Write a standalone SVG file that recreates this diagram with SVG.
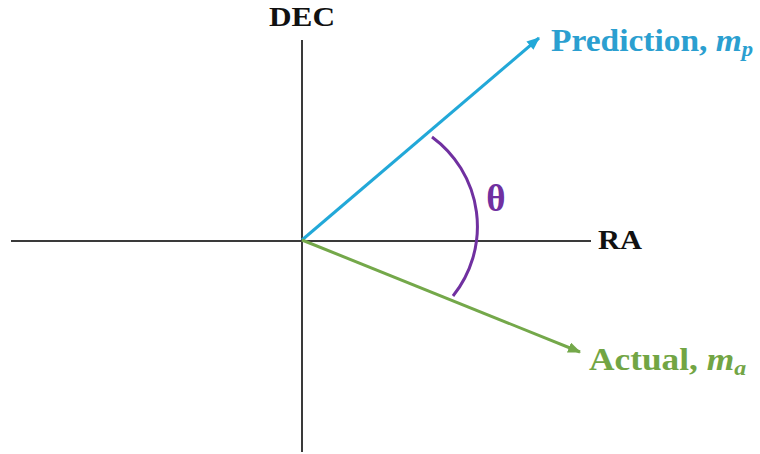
<svg xmlns="http://www.w3.org/2000/svg" width="760" height="454" viewBox="0 0 760 454">
<style>
.lbl{font-family:"Liberation Serif","Times New Roman",serif;font-weight:bold;}
.ax{stroke:#3a3a3a;stroke-width:2;fill:none;}
.it{font-style:italic;}
</style>
<defs>
<marker id="ahb" viewBox="0 0 12 10" refX="11" refY="5" markerWidth="13" markerHeight="11" markerUnits="userSpaceOnUse" orient="auto"><path d="M0,0 L12,5 L0,10 Z" fill="#22a8d8"/></marker>
<marker id="ahg" viewBox="0 0 12 10" refX="11" refY="5" markerWidth="13" markerHeight="11" markerUnits="userSpaceOnUse" orient="auto"><path d="M0,0 L12,5 L0,10 Z" fill="#74a84a"/></marker>
</defs>
<rect width="760" height="454" fill="#ffffff"/>
<g id="axes">
<line class="ax" x1="302" y1="40" x2="302" y2="452"/>
<line class="ax" x1="11" y1="241" x2="591" y2="241"/>
</g>
<g id="connectors">
<line x1="302" y1="240" x2="539" y2="38" stroke="#22a8d8" stroke-width="3" marker-end="url(#ahb)"/>
<line x1="302" y1="240" x2="580" y2="352" stroke="#74a84a" stroke-width="3" marker-end="url(#ahg)"/>
<path d="M432 137 A111 111 0 0 1 453 296" fill="none" stroke="#7030a0" stroke-width="3"/>
</g>
<g id="dec"><text class="lbl" x="302" y="26" font-size="28" text-anchor="middle" textLength="66" lengthAdjust="spacingAndGlyphs" fill="#111">DEC</text></g>
<g id="ra"><text class="lbl" x="598" y="249" font-size="28" textLength="44" lengthAdjust="spacingAndGlyphs" fill="#111">RA</text></g>
<g id="theta"><text class="lbl" x="496" y="211" font-size="37" text-anchor="middle" fill="#7030a0">θ</text></g>
<g id="prediction"><text class="lbl" transform="translate(551,51) scale(1.08,1)" x="0" y="0" font-size="31" fill="#2b9fd0">Prediction, <tspan class="it">m</tspan><tspan class="it" font-size="21" dy="5">p</tspan></text></g>
<g id="actual"><text class="lbl" transform="translate(589,370) scale(1.14,1)" x="0" y="0" font-size="31" fill="#72a544">Actual, <tspan class="it">m</tspan><tspan class="it" font-size="21" dy="5">a</tspan></text></g>
</svg>
